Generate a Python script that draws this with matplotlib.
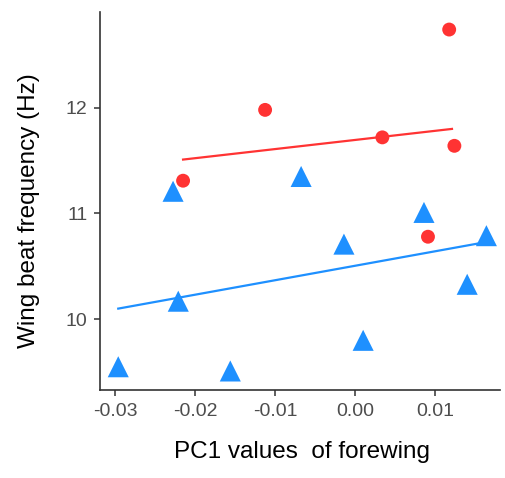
import matplotlib.pyplot as plt
import numpy as np

plt.rcParams['font.family'] = ['Liberation Sans', 'DejaVu Sans']

# red group (circles)
red_x = [-0.0215, -0.01125, 0.0034, 0.01175, 0.0124, 0.0091]
red_y = [11.31, 11.98, 11.72, 12.74, 11.64, 10.78]
red_fit_x = [-0.0215, 0.0121]
red_fit_y = [11.51, 11.80]

# blue group (triangles)
blue_x = [-0.02275, -0.00675, 0.0086, -0.0014, 0.0164, 0.0140, 0.0010, -0.0221, -0.0296, -0.0156]
blue_y = [11.21, 11.35, 11.01, 10.71, 10.79, 10.33, 9.80, 10.17, 9.55, 9.51]
blue_fit_x = [-0.0296, 0.0164]
blue_fit_y = [10.10, 10.73]

x_ticks = [-0.03, -0.02, -0.01, 0.00, 0.01]
x_labels = ['-0.03', '-0.02', '-0.01', '0.00', '0.01']
y_ticks = [10, 11, 12]

red = '#FF3333'
blue = '#1E90FF'

fig = plt.figure(figsize=(5.06, 4.78), dpi=100)
ax = fig.add_axes([100 / 506, 1 - 390 / 478, 400 / 506, 378 / 478])

ax.plot(red_fit_x, red_fit_y, color=red, lw=1.6, zorder=2)
ax.plot(blue_fit_x, blue_fit_y, color=blue, lw=1.6, zorder=2)
ax.scatter(red_x, red_y, s=100, marker='o', color=red, edgecolors='none', zorder=3)
ax.scatter(blue_x, blue_y, s=230, marker='^', color=blue, edgecolors='none', zorder=3)

ax.set_xlim(-0.03188, 0.0181)
ax.set_ylim(9.33, 12.906)
ax.set_xticks(x_ticks)
ax.set_xticklabels(x_labels)
ax.set_yticks(y_ticks)

for s in ['top', 'right']:
    ax.spines[s].set_visible(False)
for s in ['left', 'bottom']:
    ax.spines[s].set_color('#333333')
    ax.spines[s].set_linewidth(1.2)
ax.tick_params(direction='out', length=4, width=1.1, color='#333333',
               labelcolor='#4D4D4D', labelsize=14, pad=5)

# axis titles placed in figure coordinates
fig.text(302 / 506, 1 - 452 / 478, 'PC1 values  of forewing', fontsize=17.5,
         ha='center', va='center')
fig.text(29 / 506, 1 - 211 / 478, 'Wing beat frequency (Hz)', fontsize=17.5,
         ha='center', va='center', rotation=90)

fig.savefig('out.png', dpi=100)
